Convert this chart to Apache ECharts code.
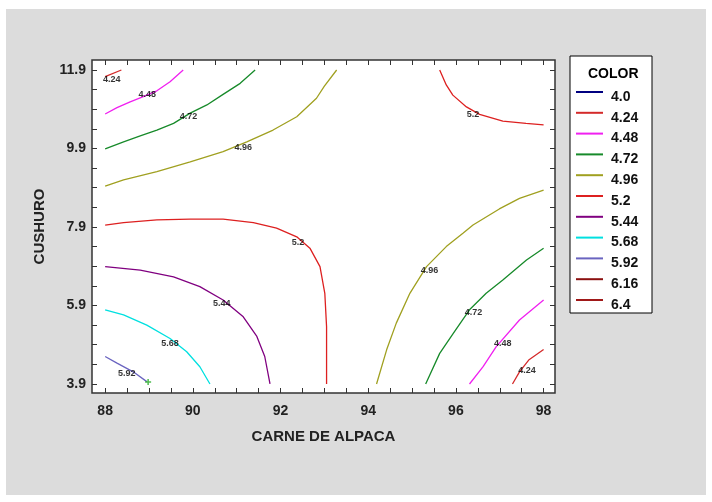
<!DOCTYPE html>
<html><head><meta charset="utf-8">
<script src="https://cdn.jsdelivr.net/npm/echarts@6/dist/echarts.min.js"></script>
<style>html,body{margin:0;padding:0;background:#fff}#c{width:712px;height:502px}</style>
</head><body><div id="c"></div>
<script>
// Legend levels and colours
const levels = ['4.0','4.24','4.48','4.72','4.96','5.2','5.44','5.68','5.92','6.16','6.4'];
const levelColors = ['#000080','#d42a2a','#f020f0','#178a2a','#a0a020','#dd2020','#800080','#00e0e0','#6a64c0','#8b1010','#a01818'];

// Tick labels
const xLabels = [88, 90, 92, 94, 96, 98];
const yLabels = [3.9, 5.9, 7.9, 9.9, 11.9];

// Contour lines (CARNE DE ALPACA, CUSHURO)
const c424_top = [[88,11.73],[88.37,11.9]];
const c448_top = [[88,10.78],[88.27,10.94],[88.57,11.09],[88.87,11.22],[89.18,11.37],[89.48,11.60],[89.78,11.9]];
const c472_top = [[88,9.89],[88.42,10.07],[88.8,10.22],[89.18,10.37],[89.56,10.54],[89.94,10.80],[90.32,11.01],[90.69,11.28],[91.08,11.56],[91.42,11.9]];
const c496_top = [[88,8.94],[88.42,9.10],[89.18,9.31],[89.94,9.56],[90.69,9.82],[91.23,10.07],[91.83,10.37],[92.37,10.71],[92.82,11.18],[93.0,11.49],[93.28,11.9]];
const c52_top = [[95.63,11.9],[95.78,11.52],[95.93,11.26],[96.24,10.96],[96.54,10.77],[97.07,10.60],[97.60,10.54],[98,10.50]];
const c52_mid = [[88,7.95],[88.42,8.01],[89.18,8.08],[89.94,8.10],[90.69,8.10],[91.38,8.01],[91.91,7.87],[92.37,7.65],[92.67,7.36],[92.90,6.89],[93.01,6.21],[93.05,5.36],[93.05,3.9]];
const c544 = [[88,6.89],[88.8,6.80],[89.56,6.63],[90.16,6.38],[90.69,6.04],[91.15,5.61],[91.46,5.11],[91.64,4.60],[91.76,3.9]];
const c568 = [[88,5.79],[88.42,5.66],[88.95,5.40],[89.48,5.06],[89.86,4.72],[90.16,4.34],[90.39,3.9]];
const c592 = [[88,4.60],[88.27,4.43],[88.64,4.21],[88.95,3.96]];
const c496_bot = [[94.19,3.9],[94.42,4.77],[94.64,5.45],[94.95,6.21],[95.33,6.89],[95.78,7.40],[96.16,7.74],[96.39,7.95],[96.99,8.36],[97.45,8.63],[98,8.84]];
const c472_bot = [[95.31,3.9],[95.63,4.68],[95.94,5.19],[96.31,5.79],[96.69,6.21],[97.07,6.55],[97.61,7.06],[98,7.36]];
const c448_bot = [[96.31,3.9],[96.62,4.34],[96.92,4.85],[97.45,5.53],[98,6.04]];
const c424_bot = [[97.29,3.9],[97.45,4.21],[97.66,4.51],[98,4.78]];

// Optimum marker
const optimumPoint = [[88.98, 3.95]];

// Contour labels [x, y, text]
const contourLabels = [
  [88.15,11.67,'4.24'],[88.96,11.28,'4.48'],[89.9,10.71,'4.72'],[91.15,9.92,'4.96'],
  [96.39,10.77,'5.2'],[92.4,7.5,'5.2'],[90.66,5.94,'5.44'],[89.48,4.94,'5.68'],[88.49,4.17,'5.92'],
  [95.4,6.78,'4.96'],[96.4,5.73,'4.72'],[97.07,4.94,'4.48'],[97.62,4.24,'4.24']
];

const segments = [
  ['4.24', c424_top],['4.48', c448_top],['4.72', c472_top],['4.96', c496_top],['5.2', c52_top],
  ['5.2', c52_mid],['5.44', c544],['5.68', c568],['5.92', c592],
  ['4.96', c496_bot],['4.72', c472_bot],['4.48', c448_bot],['4.24', c424_bot]
];

const FONT = 'Liberation Sans';
const xMin = 87.7, xMax = 98.26, yMin = 3.67, yMax = 12.155;
const xMinor = []; for (let v = 88; v <= 98.001; v += 0.5) xMinor.push(+v.toFixed(2));
const yMinor = []; for (let v = 3.9; v <= 11.901; v += 0.5) yMinor.push(+v.toFixed(2));

const colorOf = name => levelColors[levels.indexOf(name)];

const series = [];
levels.forEach(l => {
  const segs = segments.filter(s => s[0] === l);
  if (segs.length === 0) {
    series.push({type:'line', name:l, data:[], symbol:'none', lineStyle:{color:colorOf(l), width:1.3}, itemStyle:{color:colorOf(l)}});
  }
  segs.forEach(s => {
    series.push({type:'line', name:l, data:s[1], symbol:'none', smooth:false,
      lineStyle:{color:colorOf(l), width:1.3}, itemStyle:{color:colorOf(l)}, z:3, silent:true});
  });
});
series.push({type:'scatter', name:'opt', data:optimumPoint, symbol:'path://M0,3L6,3M3,0L3,6', symbolSize:6,
  itemStyle:{color:'none', borderColor:'#22aa22', borderWidth:1.5}, z:4});
series.push({type:'scatter', name:'labels', data:contourLabels, symbolSize:0, z:5,
  label:{show:true, position:'inside', formatter:p => p.data[2], color:'#000', fontSize:9, fontWeight:'bold', fontFamily:FONT}});

const axisCommonX = {type:'value', min:xMin, max:xMax, splitLine:{show:false}, axisLine:{show:false}};
const axisCommonY = {type:'value', min:yMin, max:yMax, splitLine:{show:false}, axisLine:{show:false}};

const option = {
  animation:false,
  backgroundColor:'#fff',
  graphic:[
    {type:'rect', z:-10, shape:{x:6, y:9, width:700, height:486}, style:{fill:'#dcdcdc'}},
    {type:'rect', z:1, shape:{x:570, y:56, width:82, height:257}, style:{fill:'#fff', stroke:'#000', lineWidth:1}},
    {type:'text', z:2, left:588, top:67, style:{text:'COLOR', font:'bold 14px "Liberation Sans"', fill:'#000'}}
  ],
  grid:{left:92, right:157, top:60, bottom:109, show:true, backgroundColor:'#fff', borderColor:'#333', borderWidth:1.5},
  legend:{
    orient:'vertical', left:575, top:80, z:3, padding:0,
    data:levels, itemWidth:27, itemHeight:14, itemGap:-3.2, selectedMode:false,
    itemStyle:{opacity:0, borderWidth:0},
    formatter: name => '\n' + name,
    textStyle:{fontFamily:FONT, fontSize:14, fontWeight:'bold', color:'#111', lineHeight:10, padding:[0,0,0,3]}
  },
  xAxis:[
    Object.assign({}, axisCommonX, {position:'bottom', name:'CARNE DE ALPACA', nameLocation:'middle', nameGap:36,
      nameTextStyle:{fontFamily:FONT, fontSize:15, fontWeight:'bold', color:'#222'},
      axisTick:{show:true, inside:true, length:5, customValues:xMinor, lineStyle:{color:'#333'}},
      axisLabel:{show:true, customValues:xLabels, margin:11, fontFamily:FONT, fontSize:14, fontWeight:'bold', color:'#222'}}),
    Object.assign({}, axisCommonX, {position:'top',
      axisTick:{show:true, inside:true, length:5, customValues:xMinor, lineStyle:{color:'#333'}},
      axisLabel:{show:false}})
  ],
  yAxis:[
    Object.assign({}, axisCommonY, {position:'left', name:'CUSHURO', nameLocation:'middle', nameGap:45,
      nameTextStyle:{fontFamily:FONT, fontSize:15, fontWeight:'bold', color:'#222'},
      axisTick:{show:true, inside:true, length:5, customValues:yMinor, lineStyle:{color:'#333'}},
      axisLabel:{show:true, customValues:yLabels, margin:6, fontFamily:FONT, fontSize:14, fontWeight:'bold', color:'#222'}}),
    Object.assign({}, axisCommonY, {position:'right',
      axisTick:{show:true, inside:true, length:5, customValues:yMinor, lineStyle:{color:'#333'}},
      axisLabel:{show:false}})
  ],
  series:series
};
const chart = echarts.init(document.getElementById('c'), null, {renderer:'canvas'});
chart.setOption(option);
</script></body></html>
